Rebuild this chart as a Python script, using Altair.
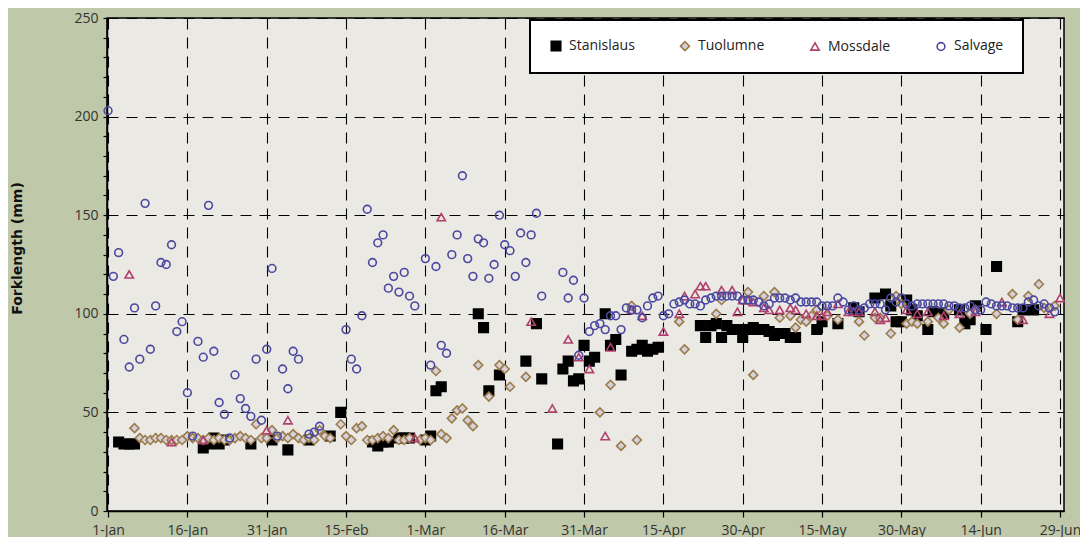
import json
import altair as alt
import pandas as pd

# ---------------- data ----------------
x_labels = ["1-Jan", "16-Jan", "31-Jan", "15-Feb", "1-Mar", "16-Mar", "31-Mar",
            "15-Apr", "30-Apr", "15-May", "30-May", "14-Jun", "29-Jun"]
x_tick_days = [0, 15, 30, 45, 60, 75, 90, 105, 120, 135, 150, 165, 180]
series_names = ["Stanislaus", "Tuolumne", "Mossdale", "Salvage"]

stan_day = [2, 3, 4, 5, 18, 19, 20, 21, 22, 27, 31, 34, 38, 42, 44, 50, 51, 52, 53, 55, 56, 57,
            60, 61, 62, 63, 70, 71, 72, 74, 79, 81, 82, 85, 86, 87, 88, 89, 90, 91, 92,
            94, 95, 96, 97, 99, 100, 101, 102, 103, 104,
            112, 113, 114, 115, 116, 117, 118, 119, 120, 121, 122, 123, 124, 125, 126, 127, 128, 129, 130,
            134, 135, 138, 141, 142, 145, 147, 148, 149, 150, 151, 152, 153, 155, 156, 158,
            161, 162, 163, 164, 166, 168, 172, 173, 175]
stan_len = [35, 34, 34, 34, 32, 34, 37, 34, 36, 34, 36, 31, 36, 38, 50, 35, 33, 35, 35, 37, 37, 37,
            36, 38, 61, 63, 100, 93, 61, 69, 76, 95, 67, 34, 72, 76, 66, 67, 84, 76, 78,
            100, 84, 87, 69, 81, 82, 84, 81, 82, 83,
            94, 88, 94, 95, 88, 94, 92, 92, 88, 92, 93, 92, 92, 91, 89, 90, 90, 88, 88,
            92, 96, 95, 103, 101, 108, 110, 104, 96, 96, 107, 102, 99, 92, 101, 100,
            102, 95, 97, 104, 92, 124, 96, 102, 102]

tuol_day = [5, 6, 7, 8, 9, 10, 11, 12, 13, 14, 15, 16, 17, 18, 19, 20, 21, 22, 23, 24, 25, 26, 27,
            28, 29, 30, 31, 32, 33, 34, 35, 36, 37, 38, 39, 40, 41, 42, 44, 45, 46, 47, 48, 49,
            50, 51, 52, 53, 54, 55, 56, 57, 59, 60, 61, 62, 63, 64, 65, 66, 67, 68, 69, 70,
            72, 74, 75, 76, 79, 93, 95, 97, 99, 100, 108, 109, 115, 116, 121, 122, 124, 126,
            127, 129, 130, 131, 132, 133, 134, 136, 138, 142, 143, 145, 146, 148, 149, 150,
            151, 152, 153, 155, 157, 158, 159, 161, 163, 164, 168, 171, 172, 174, 176, 177, 179]
tuol_len = [42, 37, 36, 36, 37, 37, 36, 36, 36, 36, 38, 37, 37, 36, 37, 36, 37, 36, 36, 37, 38, 37, 36,
            44, 37, 37, 41, 37, 38, 37, 39, 37, 36, 37, 36, 41, 38, 37, 44, 38, 36, 42, 43, 36,
            36, 37, 38, 37, 41, 36, 36, 37, 36, 37, 36, 71, 39, 37, 47, 51, 52, 46, 43, 74,
            58, 74, 72, 63, 68, 50, 64, 33, 104, 36, 96, 82, 100, 107, 111, 69, 109, 111,
            98, 99, 93, 97, 96, 99, 102, 99, 97, 96, 89, 98, 98, 90, 109, 105,
            95, 96, 95, 96, 98, 95, 102, 93, 100, 102, 100, 110, 97, 109, 115, 103, 104]

moss_day = [4, 12, 18, 30, 34, 58, 63, 80, 84, 87, 89, 91, 94, 95, 99, 101, 105, 108, 109, 111,
            112, 113, 116, 118, 119, 120, 121, 122, 124, 125, 127, 129, 130, 132, 134, 135, 136,
            138, 140, 141, 142, 145, 146, 147, 151, 153, 155, 158, 161, 164, 169, 173, 178, 180]
moss_len = [120, 35, 36, 41, 46, 37, 149, 96, 52, 87, 78, 72, 38, 83, 102, 99, 91, 100, 109, 110,
            114, 114, 112, 112, 101, 107, 107, 106, 103, 102, 102, 103, 102, 100, 99, 99, 101,
            105, 101, 101, 101, 101, 97, 98, 102, 100, 101, 99, 100, 101, 106, 97, 100, 108]

salv_day = [0, 1, 2, 3, 4, 5, 6, 7, 8, 9, 10, 11, 12, 13, 14, 15, 16, 17, 18, 19, 20, 21, 22, 23,
            24, 25, 26, 27, 28, 29, 30, 31, 32, 33, 34, 35, 36, 38, 39, 40,
            45, 46, 47, 48, 49, 50, 51, 52, 53, 54, 55, 56, 57, 58, 60, 61, 62, 63, 64, 65,
            66, 67, 68, 69, 70, 71, 72, 73, 74, 75, 76, 77, 78, 79, 80, 81, 82,
            86, 87, 88, 89, 90, 91, 92, 93, 94, 95, 96, 97, 98, 99, 100, 101, 102, 103, 104,
            105, 106, 107, 108, 109, 110, 111, 112, 113, 114, 115, 116, 117, 118, 119, 120,
            121, 122, 123, 124, 125, 126, 127, 128, 129, 130, 131, 132, 133, 134, 135, 136,
            137, 138, 139, 140, 141, 142, 143, 144, 145, 146, 147, 148, 149, 150, 151, 152,
            153, 154, 155, 156, 157, 158, 159, 160, 161, 162, 163, 164, 165, 166, 167, 168,
            169, 170, 171, 172, 173, 174, 175, 176, 177, 178, 179]
salv_len = [203, 119, 131, 87, 73, 103, 77, 156, 82, 104, 126, 125, 135, 91, 96, 60, 38, 86, 78, 155,
            81, 55, 49, 37, 69, 57, 52, 48, 77, 46, 82, 123, 38, 72, 62, 81, 77, 39, 40, 43,
            92, 77, 72, 99, 153, 126, 136, 140, 113, 119, 111, 121, 109, 104, 128, 74, 124, 84, 80, 130,
            140, 170, 128, 119, 138, 136, 118, 125, 150, 135, 132, 119, 141, 126, 140, 151, 109,
            121, 108, 117, 79, 108, 91, 94, 95, 92, 99, 99, 92, 103, 102, 102, 98, 104, 108, 109,
            99, 100, 105, 106, 107, 105, 105, 104, 107, 108, 109, 109, 109, 109, 109, 107,
            107, 107, 106, 104, 105, 108, 108, 108, 107, 108, 106, 106, 106, 106, 104, 104,
            104, 108, 106, 102, 104, 102, 103, 105, 105, 105, 102, 108, 106, 108, 105, 104,
            105, 105, 105, 105, 105, 105, 104, 104, 103, 103, 104, 102, 102, 106, 105, 104,
            104, 104, 103, 103, 103, 106, 107, 104, 105, 103, 101]

# ---------------- table ----------------
frames = []
for name, d, v in [("Stanislaus", stan_day, stan_len), ("Tuolumne", tuol_day, tuol_len),
                   ("Mossdale", moss_day, moss_len), ("Salvage", salv_day, salv_len)]:
    n = min(len(d), len(v))
    frames.append(pd.DataFrame({"day": d[:n], "length": v[:n], "series": name}))
df = pd.concat(frames, ignore_index=True)
df["order"] = df["series"].map({s: i for i, s in enumerate(series_names)})

FONT = "Open Sans"
label_expr = json.dumps(x_labels) + "[round(datum.value / 15)]"

chart = alt.Chart(df).mark_point(opacity=1, strokeWidth=1.6).encode(
    x=alt.X("day:Q",
            scale=alt.Scale(domain=[-0.2, 180.75], nice=False, zero=False),
            axis=alt.Axis(values=x_tick_days, labelExpr=label_expr, title=None,
                          grid=True, tickSize=6, labelPadding=6)),
    y=alt.Y("length:Q",
            scale=alt.Scale(domain=[0, 250], nice=False),
            axis=alt.Axis(values=list(range(0, 251, 10)),
                          labelExpr="datum.value % 50 === 0 ? datum.label : ''",
                          gridOpacity={"condition": {"test": "datum.value % 50 === 0", "value": 1},
                                       "value": 0},
                          tickSize=4, labelPadding=5,
                          title="Forklength (mm)", titleFont="DejaVu Sans",
                          titleFontWeight="bold", titleFontSize=14,
                          titleAngle=270, titleX=-90, titleY=230, titleAlign="center",
                          titleBaseline="middle", titleColor="#111111")),
    shape=alt.Shape("series:N", scale=alt.Scale(domain=series_names,
                    range=["square", "diamond", "triangle-up", "circle"]), title=None),
    fill=alt.Fill("series:N", scale=alt.Scale(domain=series_names,
                  range=["#000000", "#d5d1dc", "transparent", "transparent"]), title=None),
    stroke=alt.Stroke("series:N", scale=alt.Scale(domain=series_names,
                      range=["#000000", "#9c7b4a", "#b0406e", "#4a48a0"]), title=None),
    size=alt.Size("series:N", scale=alt.Scale(domain=series_names, range=[90, 60, 75, 50]),
                  title=None),
    order=alt.Order("order:Q"),
).properties(
    width=957, height=493,
    autosize=alt.AutoSizeParams(type="none"),
    padding={"left": 99, "top": 10, "right": 16, "bottom": 26},
    background="#bfc8a8",
).configure_view(
    fill="#ebe9e3", stroke="#000000", strokeWidth=1.5,
).configure_axis(
    domainColor="#000000", domainWidth=1.5, tickColor="#000000", tickWidth=1.2,
    gridColor="#000000", gridDash=[11, 8], gridWidth=1.1,
    labelFont=FONT, labelFontSize=14, labelColor="#333333",
).configure_legend(
    orient="none", legendX=423, legendY=2, direction="horizontal", columns=4,
    fillColor="#ffffff", strokeColor="#000000", strokeWidth=2, padding=19,
    columnPadding=42, labelFont=FONT, labelFontSize=14, labelColor="#222222",
    labelOffset=6, symbolStrokeWidth=1.6, titleFontSize=0,
)

chart.save("out.html", embed_options={"renderer": "svg", "actions": False})
